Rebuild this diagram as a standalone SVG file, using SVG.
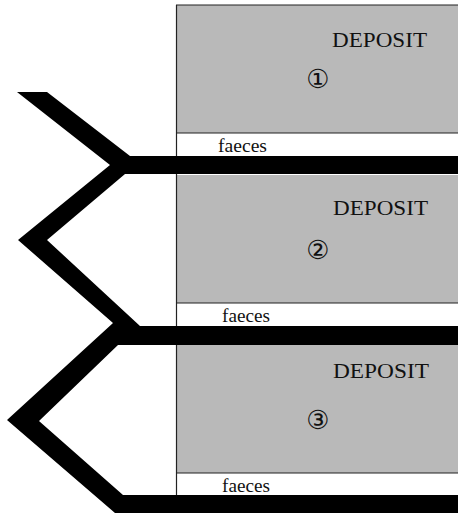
<svg xmlns="http://www.w3.org/2000/svg" width="458" height="518" viewBox="0 0 458 518">
<style>
.dep{fill:#b9b9b9;}
.edge{stroke:#222;stroke-width:1.2;fill:none;}
.t{font-family:"Liberation Serif","Times New Roman",serif;fill:#111;}
.big{font-size:21px;}
.lab{font-size:19px;}
.num{font-family:"DejaVu Sans","Noto Sans CJK JP",sans-serif;font-size:26px;fill:#111;}
</style>
<rect width="458" height="518" fill="#fff"/>
<g id="deposit1">
<rect class="dep" x="176" y="5" width="282" height="128"/>
<line class="edge" x1="176" y1="5" x2="458" y2="5"/>
<line class="edge" x1="176" y1="133" x2="458" y2="133"/>
<line class="edge" x1="176.5" y1="5" x2="176.5" y2="156"/>
<text class="t big" x="332" y="47" textLength="95" lengthAdjust="spacingAndGlyphs">DEPOSIT</text>
<text class="num" x="318" y="88" text-anchor="middle">①</text>
<text class="t lab" x="218" y="152" textLength="49" lengthAdjust="spacingAndGlyphs">faeces</text>
</g>
<g id="deposit2">
<rect class="dep" x="176" y="175" width="282" height="128"/>
<line class="edge" x1="176" y1="303" x2="458" y2="303"/>
<line class="edge" x1="176.5" y1="174" x2="176.5" y2="326"/>
<text class="t big" x="333" y="215" textLength="95" lengthAdjust="spacingAndGlyphs">DEPOSIT</text>
<text class="num" x="318" y="259" text-anchor="middle">②</text>
<text class="t lab" x="222" y="322" textLength="48" lengthAdjust="spacingAndGlyphs">faeces</text>
</g>
<g id="deposit3">
<rect class="dep" x="176" y="345" width="282" height="128"/>
<line class="edge" x1="176" y1="473" x2="458" y2="473"/>
<line class="edge" x1="176.5" y1="345" x2="176.5" y2="495"/>
<text class="t big" x="333" y="378" textLength="96" lengthAdjust="spacingAndGlyphs">DEPOSIT</text>
<text class="num" x="318" y="429" text-anchor="middle">③</text>
<text class="t lab" x="222" y="492" textLength="48" lengthAdjust="spacingAndGlyphs">faeces</text>
</g>
<g id="connectors">
<polygon fill="#000" points="17,92 47,92 130,156 458,156 458,174 125,174 47,240 140,326 458,326 458,345 118,345 39,421 123,495 458,495 458,513 115,513 7,420 113,323 18,240 110,165"/>
</g>
</svg>
